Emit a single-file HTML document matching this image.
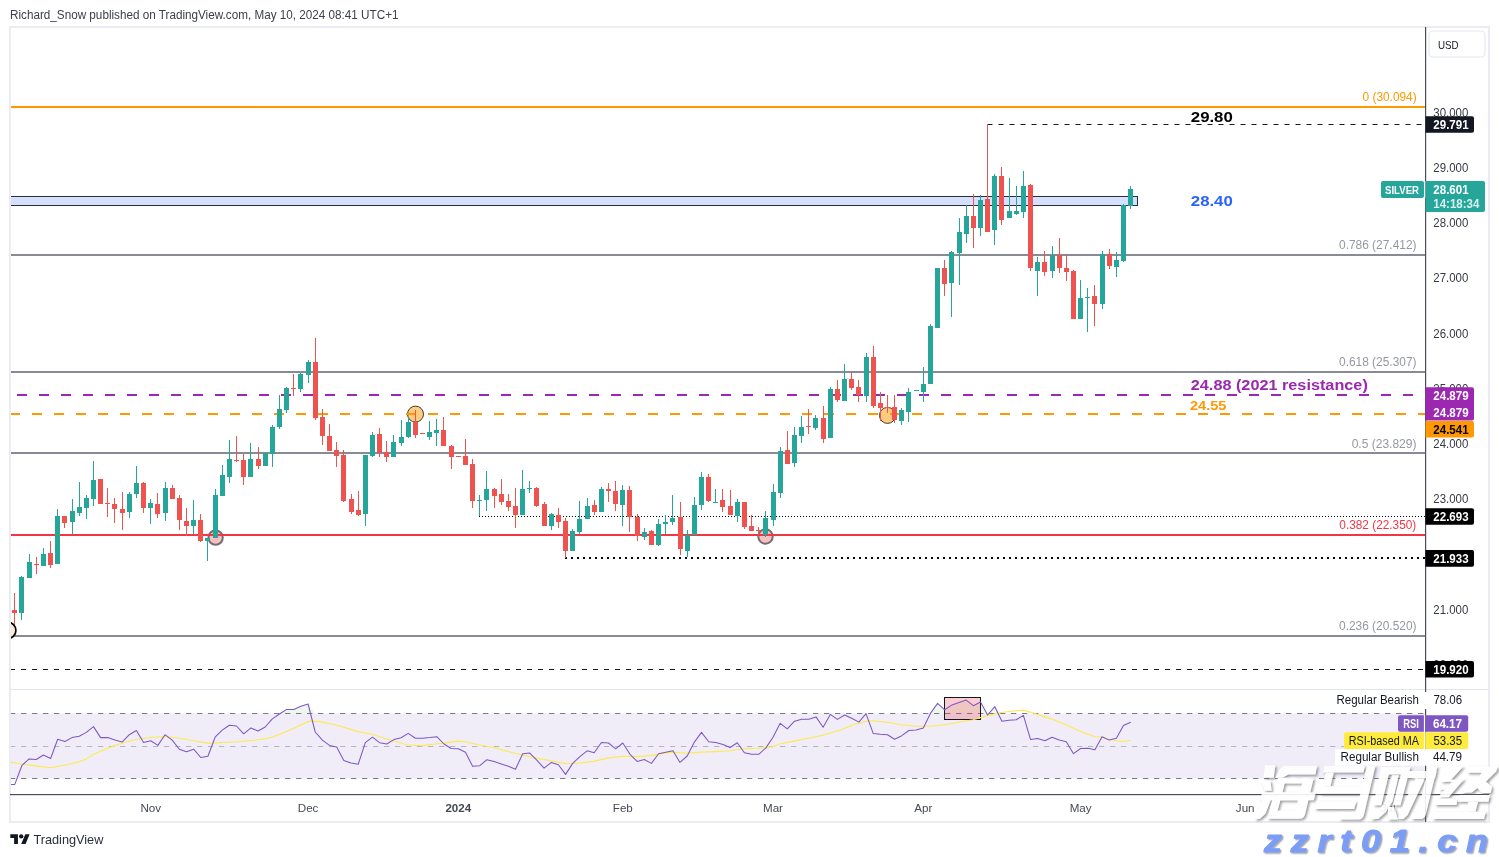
<!DOCTYPE html><html><head><meta charset="utf-8"><title>chart</title><style>html,body{margin:0;padding:0;background:#fff;}svg{display:block;will-change:transform;opacity:0.999}</style></head><body><svg width="1499" height="857" viewBox="0 0 1499 857" font-family='"Liberation Sans", sans-serif' shape-rendering="auto">
<defs><clipPath id="cp"><rect x="10" y="27" width="1415" height="663"/></clipPath><clipPath id="rp"><rect x="10" y="690" width="1415" height="104"/></clipPath><filter id="sh" x="-5%" y="-10%" width="110%" height="130%"><feDropShadow dx="1.6" dy="1.6" stdDeviation="0.8" flood-color="#606066" flood-opacity="0.7"/></filter><filter id="sh2" x="-5%" y="-10%" width="110%" height="130%"><feDropShadow dx="1.4" dy="1.4" stdDeviation="0.6" flood-color="#666" flood-opacity="0.55"/></filter></defs>
<rect width="1499" height="857" fill="#fff"/>
<text x="10" y="19" font-size="12" fill="#3c404b" font-weight="normal" text-anchor="start" textLength="388.5" lengthAdjust="spacingAndGlyphs" >Richard_Snow published on TradingView.com, May 10, 2024 08:41 UTC+1</text>
<rect x="10" y="713.5" width="1415" height="65" fill="#f0edf9"/>
<rect x="10" y="689" width="1479" height="1" fill="#e3e5ee"/>
<g clip-path="url(#cp)">
<circle cx="215.6" cy="537.6" r="7.2" fill="#f23645" fill-opacity="0.32" stroke="#707070" stroke-width="2"/>
<circle cx="765.5" cy="536.5" r="7.2" fill="#f23645" fill-opacity="0.32" stroke="#707070" stroke-width="2"/>
<circle cx="415.5" cy="414.1" r="8" fill="#ff9800" fill-opacity="0.5" stroke="#3a3a3a" stroke-width="1"/>
<circle cx="887.5" cy="415.4" r="8" fill="#ff9800" fill-opacity="0.5" stroke="#3a3a3a" stroke-width="1"/>
</g>
<line x1="10" y1="107" x2="1425" y2="107" stroke="#ff9800" stroke-width="2"/>
<line x1="10" y1="255" x2="1425" y2="255" stroke="#888b96" stroke-width="2"/>
<line x1="10" y1="372" x2="1425" y2="372" stroke="#888b96" stroke-width="2"/>
<line x1="10" y1="453" x2="1425" y2="453" stroke="#888b96" stroke-width="2"/>
<line x1="10" y1="535" x2="1425" y2="535" stroke="#f23645" stroke-width="2"/>
<line x1="10" y1="636" x2="1425" y2="636" stroke="#888b96" stroke-width="2"/>
<g clip-path="url(#cp)"><rect x="0.5" y="196.5" width="1137" height="9" fill="#d5e0ff" stroke="#2a2e39" stroke-width="1"/></g>
<line x1="17" y1="395" x2="1413" y2="395" stroke="#9c27b0" stroke-width="2" stroke-dasharray="10 12" stroke-dashoffset="0"/>
<line x1="10" y1="414" x2="1425" y2="414" stroke="#ff9800" stroke-width="2" stroke-dasharray="10 12" stroke-dashoffset="0"/>
<line x1="987.5" y1="124.5" x2="1425" y2="124.5" stroke="#131722" stroke-width="1" stroke-dasharray="5 6" stroke-dashoffset="0"/>
<line x1="10" y1="669.5" x2="1425" y2="669.5" stroke="#131722" stroke-width="1" stroke-dasharray="5 6" stroke-dashoffset="0"/>
<line x1="479" y1="516.5" x2="1425" y2="516.5" stroke="#000" stroke-width="1" stroke-dasharray="1 2" stroke-dashoffset="0"/>
<line x1="565" y1="558" x2="1425" y2="558" stroke="#000" stroke-width="2" stroke-dasharray="2 4" stroke-dashoffset="0"/>
<g clip-path="url(#cp)" shape-rendering="crispEdges">
<rect x="14.0" y="593" width="1" height="32" fill="#ef5350"/>
<rect x="12.0" y="610" width="5" height="3" fill="#ef5350"/>
<rect x="21.0" y="576" width="1" height="44" fill="#26a69a"/>
<rect x="19.0" y="577" width="5" height="36" fill="#26a69a"/>
<rect x="29.0" y="554" width="1" height="24" fill="#26a69a"/>
<rect x="27.0" y="562" width="5" height="16" fill="#26a69a"/>
<rect x="36.0" y="557" width="1" height="17" fill="#ef5350"/>
<rect x="34.0" y="564" width="5" height="1" fill="#ef5350"/>
<rect x="43.0" y="548" width="1" height="18" fill="#26a69a"/>
<rect x="41.0" y="554" width="5" height="12" fill="#26a69a"/>
<rect x="50.0" y="541" width="1" height="27" fill="#ef5350"/>
<rect x="48.0" y="553" width="5" height="12" fill="#ef5350"/>
<rect x="57.0" y="509" width="1" height="55" fill="#26a69a"/>
<rect x="55.0" y="516" width="5" height="48" fill="#26a69a"/>
<rect x="64.0" y="516" width="1" height="12" fill="#ef5350"/>
<rect x="62.0" y="516" width="5" height="7" fill="#ef5350"/>
<rect x="72.0" y="499" width="1" height="35" fill="#26a69a"/>
<rect x="70.0" y="511" width="5" height="11" fill="#26a69a"/>
<rect x="79.0" y="482" width="1" height="34" fill="#26a69a"/>
<rect x="77.0" y="507" width="5" height="6" fill="#26a69a"/>
<rect x="86.0" y="495" width="1" height="24" fill="#26a69a"/>
<rect x="84.0" y="498" width="5" height="10" fill="#26a69a"/>
<rect x="93.0" y="461" width="1" height="45" fill="#26a69a"/>
<rect x="91.0" y="480" width="5" height="19" fill="#26a69a"/>
<rect x="100.0" y="479" width="1" height="25" fill="#ef5350"/>
<rect x="98.0" y="479" width="5" height="25" fill="#ef5350"/>
<rect x="107.0" y="488" width="1" height="29" fill="#ef5350"/>
<rect x="105.0" y="503" width="5" height="1" fill="#ef5350"/>
<rect x="114.0" y="498" width="1" height="25" fill="#ef5350"/>
<rect x="112.0" y="504" width="5" height="5" fill="#ef5350"/>
<rect x="122.0" y="492" width="1" height="38" fill="#ef5350"/>
<rect x="120.0" y="509" width="5" height="4" fill="#ef5350"/>
<rect x="129.0" y="492" width="1" height="26" fill="#26a69a"/>
<rect x="127.0" y="494" width="5" height="18" fill="#26a69a"/>
<rect x="136.0" y="466" width="1" height="32" fill="#26a69a"/>
<rect x="134.0" y="483" width="5" height="11" fill="#26a69a"/>
<rect x="143.0" y="482" width="1" height="31" fill="#ef5350"/>
<rect x="141.0" y="483" width="5" height="25" fill="#ef5350"/>
<rect x="150.0" y="499" width="1" height="25" fill="#26a69a"/>
<rect x="148.0" y="503" width="5" height="5" fill="#26a69a"/>
<rect x="157.0" y="493" width="1" height="25" fill="#ef5350"/>
<rect x="155.0" y="504" width="5" height="10" fill="#ef5350"/>
<rect x="165.0" y="482" width="1" height="39" fill="#26a69a"/>
<rect x="163.0" y="488" width="5" height="25" fill="#26a69a"/>
<rect x="172.0" y="485" width="1" height="14" fill="#ef5350"/>
<rect x="170.0" y="488" width="5" height="11" fill="#ef5350"/>
<rect x="179.0" y="495" width="1" height="35" fill="#ef5350"/>
<rect x="177.0" y="498" width="5" height="22" fill="#ef5350"/>
<rect x="186.0" y="508" width="1" height="28" fill="#ef5350"/>
<rect x="184.0" y="521" width="5" height="5" fill="#ef5350"/>
<rect x="193.0" y="500" width="1" height="34" fill="#26a69a"/>
<rect x="191.0" y="520" width="5" height="6" fill="#26a69a"/>
<rect x="200.0" y="514" width="1" height="28" fill="#ef5350"/>
<rect x="198.0" y="520" width="5" height="21" fill="#ef5350"/>
<rect x="207.0" y="538" width="1" height="23" fill="#26a69a"/>
<rect x="205.0" y="538" width="5" height="3" fill="#26a69a"/>
<rect x="215.0" y="489" width="1" height="49" fill="#26a69a"/>
<rect x="213.0" y="495" width="5" height="43" fill="#26a69a"/>
<rect x="222.0" y="465" width="1" height="31" fill="#26a69a"/>
<rect x="220.0" y="475" width="5" height="21" fill="#26a69a"/>
<rect x="229.0" y="440" width="1" height="43" fill="#26a69a"/>
<rect x="227.0" y="459" width="5" height="18" fill="#26a69a"/>
<rect x="236.0" y="436" width="1" height="26" fill="#ef5350"/>
<rect x="234.0" y="460" width="5" height="1" fill="#ef5350"/>
<rect x="243.0" y="454" width="1" height="31" fill="#ef5350"/>
<rect x="241.0" y="460" width="5" height="17" fill="#ef5350"/>
<rect x="250.0" y="443" width="1" height="34" fill="#26a69a"/>
<rect x="248.0" y="459" width="5" height="18" fill="#26a69a"/>
<rect x="258.0" y="447" width="1" height="22" fill="#ef5350"/>
<rect x="256.0" y="459" width="5" height="7" fill="#ef5350"/>
<rect x="265.0" y="453" width="1" height="13" fill="#26a69a"/>
<rect x="263.0" y="453" width="5" height="13" fill="#26a69a"/>
<rect x="272.0" y="425" width="1" height="42" fill="#26a69a"/>
<rect x="270.0" y="427" width="5" height="27" fill="#26a69a"/>
<rect x="279.0" y="395" width="1" height="34" fill="#26a69a"/>
<rect x="277.0" y="409" width="5" height="18" fill="#26a69a"/>
<rect x="286.0" y="387" width="1" height="26" fill="#26a69a"/>
<rect x="284.0" y="388" width="5" height="22" fill="#26a69a"/>
<rect x="293.0" y="374" width="1" height="22" fill="#ef5350"/>
<rect x="291.0" y="388" width="5" height="1" fill="#ef5350"/>
<rect x="300.0" y="373" width="1" height="19" fill="#26a69a"/>
<rect x="298.0" y="374" width="5" height="15" fill="#26a69a"/>
<rect x="308.0" y="360" width="1" height="23" fill="#26a69a"/>
<rect x="306.0" y="362" width="5" height="13" fill="#26a69a"/>
<rect x="315.0" y="338" width="1" height="82" fill="#ef5350"/>
<rect x="313.0" y="362" width="5" height="56" fill="#ef5350"/>
<rect x="322.0" y="409" width="1" height="36" fill="#ef5350"/>
<rect x="320.0" y="417" width="5" height="19" fill="#ef5350"/>
<rect x="329.0" y="424" width="1" height="27" fill="#ef5350"/>
<rect x="327.0" y="436" width="5" height="15" fill="#ef5350"/>
<rect x="336.0" y="442" width="1" height="25" fill="#ef5350"/>
<rect x="334.0" y="450" width="5" height="6" fill="#ef5350"/>
<rect x="343.0" y="450" width="1" height="52" fill="#ef5350"/>
<rect x="341.0" y="455" width="5" height="46" fill="#ef5350"/>
<rect x="351.0" y="494" width="1" height="20" fill="#ef5350"/>
<rect x="349.0" y="499" width="5" height="13" fill="#ef5350"/>
<rect x="358.0" y="491" width="1" height="25" fill="#ef5350"/>
<rect x="356.0" y="510" width="5" height="5" fill="#ef5350"/>
<rect x="365.0" y="455" width="1" height="71" fill="#26a69a"/>
<rect x="363.0" y="455" width="5" height="59" fill="#26a69a"/>
<rect x="372.0" y="432" width="1" height="25" fill="#26a69a"/>
<rect x="370.0" y="435" width="5" height="21" fill="#26a69a"/>
<rect x="379.0" y="428" width="1" height="29" fill="#ef5350"/>
<rect x="377.0" y="434" width="5" height="19" fill="#ef5350"/>
<rect x="386.0" y="441" width="1" height="21" fill="#ef5350"/>
<rect x="384.0" y="452" width="5" height="5" fill="#ef5350"/>
<rect x="393.0" y="435" width="1" height="22" fill="#26a69a"/>
<rect x="391.0" y="442" width="5" height="15" fill="#26a69a"/>
<rect x="401.0" y="420" width="1" height="26" fill="#26a69a"/>
<rect x="399.0" y="437" width="5" height="6" fill="#26a69a"/>
<rect x="408.0" y="417" width="1" height="21" fill="#26a69a"/>
<rect x="406.0" y="422" width="5" height="15" fill="#26a69a"/>
<rect x="415.0" y="410" width="1" height="28" fill="#ef5350"/>
<rect x="413.0" y="422" width="5" height="13" fill="#ef5350"/>
<rect x="422.0" y="433" width="1" height="1" fill="#ef5350"/>
<rect x="420.0" y="433" width="5" height="1" fill="#ef5350"/>
<rect x="429.0" y="421" width="1" height="19" fill="#26a69a"/>
<rect x="427.0" y="432" width="5" height="5" fill="#26a69a"/>
<rect x="436.0" y="419" width="1" height="27" fill="#26a69a"/>
<rect x="434.0" y="430" width="5" height="3" fill="#26a69a"/>
<rect x="443.0" y="417" width="1" height="29" fill="#ef5350"/>
<rect x="441.0" y="430" width="5" height="16" fill="#ef5350"/>
<rect x="451.0" y="445" width="1" height="24" fill="#ef5350"/>
<rect x="449.0" y="446" width="5" height="11" fill="#ef5350"/>
<rect x="458.0" y="456" width="1" height="1" fill="#ef5350"/>
<rect x="456.0" y="456" width="5" height="1" fill="#ef5350"/>
<rect x="465.0" y="439" width="1" height="26" fill="#ef5350"/>
<rect x="463.0" y="456" width="5" height="9" fill="#ef5350"/>
<rect x="472.0" y="459" width="1" height="49" fill="#ef5350"/>
<rect x="470.0" y="464" width="5" height="37" fill="#ef5350"/>
<rect x="479.0" y="495" width="1" height="21" fill="#26a69a"/>
<rect x="477.0" y="500" width="5" height="1" fill="#26a69a"/>
<rect x="486.0" y="471" width="1" height="40" fill="#26a69a"/>
<rect x="484.0" y="489" width="5" height="11" fill="#26a69a"/>
<rect x="494.0" y="488" width="1" height="20" fill="#ef5350"/>
<rect x="492.0" y="489" width="5" height="7" fill="#ef5350"/>
<rect x="501.0" y="479" width="1" height="26" fill="#ef5350"/>
<rect x="499.0" y="494" width="5" height="8" fill="#ef5350"/>
<rect x="508.0" y="494" width="1" height="17" fill="#ef5350"/>
<rect x="506.0" y="501" width="5" height="6" fill="#ef5350"/>
<rect x="515.0" y="488" width="1" height="40" fill="#ef5350"/>
<rect x="513.0" y="506" width="5" height="9" fill="#ef5350"/>
<rect x="522.0" y="470" width="1" height="45" fill="#26a69a"/>
<rect x="520.0" y="489" width="5" height="26" fill="#26a69a"/>
<rect x="529.0" y="481" width="1" height="12" fill="#26a69a"/>
<rect x="527.0" y="488" width="5" height="1" fill="#26a69a"/>
<rect x="536.0" y="487" width="1" height="20" fill="#ef5350"/>
<rect x="534.0" y="488" width="5" height="18" fill="#ef5350"/>
<rect x="544.0" y="502" width="1" height="24" fill="#ef5350"/>
<rect x="542.0" y="504" width="5" height="22" fill="#ef5350"/>
<rect x="551.0" y="513" width="1" height="17" fill="#26a69a"/>
<rect x="549.0" y="514" width="5" height="12" fill="#26a69a"/>
<rect x="558.0" y="508" width="1" height="20" fill="#ef5350"/>
<rect x="556.0" y="515" width="5" height="7" fill="#ef5350"/>
<rect x="565.0" y="518" width="1" height="40" fill="#ef5350"/>
<rect x="563.0" y="521" width="5" height="30" fill="#ef5350"/>
<rect x="572.0" y="529" width="1" height="22" fill="#26a69a"/>
<rect x="570.0" y="531" width="5" height="20" fill="#26a69a"/>
<rect x="579.0" y="501" width="1" height="34" fill="#26a69a"/>
<rect x="577.0" y="519" width="5" height="13" fill="#26a69a"/>
<rect x="587.0" y="498" width="1" height="21" fill="#26a69a"/>
<rect x="585.0" y="506" width="5" height="13" fill="#26a69a"/>
<rect x="594.0" y="500" width="1" height="15" fill="#ef5350"/>
<rect x="592.0" y="505" width="5" height="7" fill="#ef5350"/>
<rect x="601.0" y="487" width="1" height="25" fill="#26a69a"/>
<rect x="599.0" y="489" width="5" height="23" fill="#26a69a"/>
<rect x="608.0" y="483" width="1" height="19" fill="#ef5350"/>
<rect x="606.0" y="489" width="5" height="2" fill="#ef5350"/>
<rect x="615.0" y="481" width="1" height="30" fill="#ef5350"/>
<rect x="613.0" y="491" width="5" height="13" fill="#ef5350"/>
<rect x="622.0" y="485" width="1" height="41" fill="#26a69a"/>
<rect x="620.0" y="490" width="5" height="15" fill="#26a69a"/>
<rect x="629.0" y="486" width="1" height="46" fill="#ef5350"/>
<rect x="627.0" y="490" width="5" height="27" fill="#ef5350"/>
<rect x="637.0" y="514" width="1" height="27" fill="#ef5350"/>
<rect x="635.0" y="517" width="5" height="19" fill="#ef5350"/>
<rect x="644.0" y="528" width="1" height="12" fill="#26a69a"/>
<rect x="642.0" y="532" width="5" height="5" fill="#26a69a"/>
<rect x="651.0" y="530" width="1" height="15" fill="#ef5350"/>
<rect x="649.0" y="531" width="5" height="14" fill="#ef5350"/>
<rect x="658.0" y="519" width="1" height="27" fill="#26a69a"/>
<rect x="656.0" y="524" width="5" height="21" fill="#26a69a"/>
<rect x="665.0" y="515" width="1" height="19" fill="#26a69a"/>
<rect x="663.0" y="522" width="5" height="2" fill="#26a69a"/>
<rect x="672.0" y="495" width="1" height="30" fill="#26a69a"/>
<rect x="670.0" y="518" width="5" height="4" fill="#26a69a"/>
<rect x="680.0" y="502" width="1" height="53" fill="#ef5350"/>
<rect x="678.0" y="517" width="5" height="32" fill="#ef5350"/>
<rect x="687.0" y="530" width="1" height="27" fill="#26a69a"/>
<rect x="685.0" y="535" width="5" height="16" fill="#26a69a"/>
<rect x="694.0" y="497" width="1" height="38" fill="#26a69a"/>
<rect x="692.0" y="505" width="5" height="30" fill="#26a69a"/>
<rect x="701.0" y="472" width="1" height="38" fill="#26a69a"/>
<rect x="699.0" y="477" width="5" height="28" fill="#26a69a"/>
<rect x="708.0" y="474" width="1" height="28" fill="#ef5350"/>
<rect x="706.0" y="477" width="5" height="24" fill="#ef5350"/>
<rect x="715.0" y="489" width="1" height="13" fill="#26a69a"/>
<rect x="713.0" y="502" width="5" height="1" fill="#26a69a"/>
<rect x="722.0" y="489" width="1" height="23" fill="#ef5350"/>
<rect x="720.0" y="500" width="5" height="7" fill="#ef5350"/>
<rect x="730.0" y="490" width="1" height="25" fill="#ef5350"/>
<rect x="728.0" y="506" width="5" height="9" fill="#ef5350"/>
<rect x="737.0" y="499" width="1" height="23" fill="#26a69a"/>
<rect x="735.0" y="502" width="5" height="14" fill="#26a69a"/>
<rect x="744.0" y="502" width="1" height="27" fill="#ef5350"/>
<rect x="742.0" y="502" width="5" height="25" fill="#ef5350"/>
<rect x="751.0" y="515" width="1" height="16" fill="#ef5350"/>
<rect x="749.0" y="526" width="5" height="5" fill="#ef5350"/>
<rect x="758.0" y="527" width="1" height="8" fill="#ef5350"/>
<rect x="756.0" y="530" width="5" height="1" fill="#ef5350"/>
<rect x="765.0" y="511" width="1" height="26" fill="#26a69a"/>
<rect x="763.0" y="518" width="5" height="17" fill="#26a69a"/>
<rect x="773.0" y="484" width="1" height="42" fill="#26a69a"/>
<rect x="771.0" y="492" width="5" height="28" fill="#26a69a"/>
<rect x="780.0" y="447" width="1" height="51" fill="#26a69a"/>
<rect x="778.0" y="451" width="5" height="42" fill="#26a69a"/>
<rect x="787.0" y="431" width="1" height="33" fill="#ef5350"/>
<rect x="785.0" y="450" width="5" height="14" fill="#ef5350"/>
<rect x="794.0" y="427" width="1" height="40" fill="#26a69a"/>
<rect x="792.0" y="435" width="5" height="28" fill="#26a69a"/>
<rect x="801.0" y="416" width="1" height="27" fill="#26a69a"/>
<rect x="799.0" y="427" width="5" height="9" fill="#26a69a"/>
<rect x="808.0" y="409" width="1" height="25" fill="#ef5350"/>
<rect x="806.0" y="426" width="5" height="1" fill="#ef5350"/>
<rect x="815.0" y="415" width="1" height="15" fill="#26a69a"/>
<rect x="813.0" y="418" width="5" height="10" fill="#26a69a"/>
<rect x="823.0" y="406" width="1" height="37" fill="#ef5350"/>
<rect x="821.0" y="418" width="5" height="21" fill="#ef5350"/>
<rect x="830.0" y="387" width="1" height="51" fill="#26a69a"/>
<rect x="828.0" y="389" width="5" height="49" fill="#26a69a"/>
<rect x="837.0" y="380" width="1" height="22" fill="#ef5350"/>
<rect x="835.0" y="389" width="5" height="11" fill="#ef5350"/>
<rect x="844.0" y="364" width="1" height="37" fill="#26a69a"/>
<rect x="842.0" y="379" width="5" height="22" fill="#26a69a"/>
<rect x="851.0" y="371" width="1" height="19" fill="#ef5350"/>
<rect x="849.0" y="379" width="5" height="9" fill="#ef5350"/>
<rect x="858.0" y="380" width="1" height="22" fill="#ef5350"/>
<rect x="856.0" y="387" width="5" height="8" fill="#ef5350"/>
<rect x="866.0" y="353" width="1" height="49" fill="#26a69a"/>
<rect x="864.0" y="357" width="5" height="39" fill="#26a69a"/>
<rect x="873.0" y="346" width="1" height="62" fill="#ef5350"/>
<rect x="871.0" y="357" width="5" height="49" fill="#ef5350"/>
<rect x="880.0" y="392" width="1" height="29" fill="#ef5350"/>
<rect x="878.0" y="403" width="5" height="5" fill="#ef5350"/>
<rect x="887.0" y="395" width="1" height="18" fill="#ef5350"/>
<rect x="885.0" y="407" width="5" height="1" fill="#ef5350"/>
<rect x="894.0" y="395" width="1" height="28" fill="#ef5350"/>
<rect x="892.0" y="407" width="5" height="13" fill="#ef5350"/>
<rect x="901.0" y="408" width="1" height="17" fill="#26a69a"/>
<rect x="899.0" y="410" width="5" height="11" fill="#26a69a"/>
<rect x="908.0" y="388" width="1" height="34" fill="#26a69a"/>
<rect x="906.0" y="392" width="5" height="20" fill="#26a69a"/>
<rect x="916.0" y="390" width="1" height="1" fill="#26a69a"/>
<rect x="914.0" y="390" width="5" height="1" fill="#26a69a"/>
<rect x="923.0" y="367" width="1" height="35" fill="#26a69a"/>
<rect x="921.0" y="384" width="5" height="8" fill="#26a69a"/>
<rect x="930.0" y="324" width="1" height="60" fill="#26a69a"/>
<rect x="928.0" y="326" width="5" height="58" fill="#26a69a"/>
<rect x="937.0" y="268" width="1" height="60" fill="#26a69a"/>
<rect x="935.0" y="268" width="5" height="60" fill="#26a69a"/>
<rect x="944.0" y="260" width="1" height="36" fill="#ef5350"/>
<rect x="942.0" y="268" width="5" height="16" fill="#ef5350"/>
<rect x="951.0" y="251" width="1" height="66" fill="#26a69a"/>
<rect x="949.0" y="252" width="5" height="31" fill="#26a69a"/>
<rect x="959.0" y="218" width="1" height="67" fill="#26a69a"/>
<rect x="957.0" y="232" width="5" height="21" fill="#26a69a"/>
<rect x="966.0" y="205" width="1" height="38" fill="#26a69a"/>
<rect x="964.0" y="216" width="5" height="18" fill="#26a69a"/>
<rect x="973.0" y="194" width="1" height="54" fill="#ef5350"/>
<rect x="971.0" y="216" width="5" height="12" fill="#ef5350"/>
<rect x="980.0" y="195" width="1" height="41" fill="#26a69a"/>
<rect x="978.0" y="200" width="5" height="28" fill="#26a69a"/>
<rect x="987.0" y="124" width="1" height="108" fill="#ef5350"/>
<rect x="985.0" y="199" width="5" height="33" fill="#ef5350"/>
<rect x="994.0" y="174" width="1" height="71" fill="#26a69a"/>
<rect x="992.0" y="176" width="5" height="54" fill="#26a69a"/>
<rect x="1001.0" y="167" width="1" height="58" fill="#ef5350"/>
<rect x="999.0" y="176" width="5" height="44" fill="#ef5350"/>
<rect x="1009.0" y="178" width="1" height="40" fill="#26a69a"/>
<rect x="1007.0" y="211" width="5" height="7" fill="#26a69a"/>
<rect x="1016.0" y="186" width="1" height="29" fill="#26a69a"/>
<rect x="1014.0" y="211" width="5" height="3" fill="#26a69a"/>
<rect x="1023.0" y="171" width="1" height="47" fill="#26a69a"/>
<rect x="1021.0" y="186" width="5" height="26" fill="#26a69a"/>
<rect x="1030.0" y="184" width="1" height="87" fill="#ef5350"/>
<rect x="1028.0" y="185" width="5" height="83" fill="#ef5350"/>
<rect x="1037.0" y="257" width="1" height="39" fill="#26a69a"/>
<rect x="1035.0" y="262" width="5" height="9" fill="#26a69a"/>
<rect x="1044.0" y="251" width="1" height="25" fill="#ef5350"/>
<rect x="1042.0" y="262" width="5" height="10" fill="#ef5350"/>
<rect x="1052.0" y="246" width="1" height="32" fill="#26a69a"/>
<rect x="1050.0" y="255" width="5" height="16" fill="#26a69a"/>
<rect x="1059.0" y="238" width="1" height="35" fill="#ef5350"/>
<rect x="1057.0" y="255" width="5" height="13" fill="#ef5350"/>
<rect x="1066.0" y="254" width="1" height="27" fill="#ef5350"/>
<rect x="1064.0" y="268" width="5" height="4" fill="#ef5350"/>
<rect x="1073.0" y="270" width="1" height="49" fill="#ef5350"/>
<rect x="1071.0" y="271" width="5" height="48" fill="#ef5350"/>
<rect x="1080.0" y="280" width="1" height="39" fill="#26a69a"/>
<rect x="1078.0" y="298" width="5" height="21" fill="#26a69a"/>
<rect x="1087.0" y="288" width="1" height="44" fill="#26a69a"/>
<rect x="1085.0" y="297" width="5" height="1" fill="#26a69a"/>
<rect x="1094.0" y="285" width="1" height="41" fill="#ef5350"/>
<rect x="1092.0" y="296" width="5" height="8" fill="#ef5350"/>
<rect x="1102.0" y="251" width="1" height="58" fill="#26a69a"/>
<rect x="1100.0" y="254" width="5" height="50" fill="#26a69a"/>
<rect x="1109.0" y="249" width="1" height="20" fill="#ef5350"/>
<rect x="1107.0" y="254" width="5" height="12" fill="#ef5350"/>
<rect x="1116.0" y="252" width="1" height="25" fill="#26a69a"/>
<rect x="1114.0" y="260" width="5" height="7" fill="#26a69a"/>
<rect x="1123.0" y="204" width="1" height="58" fill="#26a69a"/>
<rect x="1121.0" y="205" width="5" height="56" fill="#26a69a"/>
<rect x="1130.0" y="186" width="1" height="23" fill="#26a69a"/>
<rect x="1128.0" y="189" width="5" height="17" fill="#26a69a"/>
</g>
<g clip-path="url(#cp)"><circle cx="7.7" cy="630.4" r="8.2" fill="#fdebd0" stroke="#000" stroke-width="1.7"/></g>
<text x="1416.6" y="101" font-size="12" fill="#ff9800" font-weight="normal" text-anchor="end" textLength="54" lengthAdjust="spacingAndGlyphs" >0 (30.094)</text>
<text x="1416.5" y="248.8" font-size="12" fill="#9598a1" font-weight="normal" text-anchor="end" textLength="77.5" lengthAdjust="spacingAndGlyphs" >0.786 (27.412)</text>
<text x="1416.5" y="365.8" font-size="12" fill="#9598a1" font-weight="normal" text-anchor="end" textLength="77.5" lengthAdjust="spacingAndGlyphs" >0.618 (25.307)</text>
<text x="1416.5" y="447.9" font-size="12" fill="#9598a1" font-weight="normal" text-anchor="end" textLength="64.8" lengthAdjust="spacingAndGlyphs" >0.5 (23.829)</text>
<text x="1416.3" y="528.9" font-size="12" fill="#f23645" font-weight="normal" text-anchor="end" textLength="77" lengthAdjust="spacingAndGlyphs" >0.382 (22.350)</text>
<text x="1416.5" y="630" font-size="12" fill="#9598a1" font-weight="normal" text-anchor="end" textLength="77.5" lengthAdjust="spacingAndGlyphs" >0.236 (20.520)</text>
<text x="1190.8" y="121.9" font-size="14.5" fill="#000" font-weight="bold" text-anchor="start" textLength="42" lengthAdjust="spacingAndGlyphs" >29.80</text>
<text x="1190.8" y="205.7" font-size="14.5" fill="#2962ff" font-weight="bold" text-anchor="start" textLength="42" lengthAdjust="spacingAndGlyphs" >28.40</text>
<text x="1190.8" y="389.5" font-size="14.5" fill="#9c27b0" font-weight="bold" text-anchor="start" textLength="177" lengthAdjust="spacingAndGlyphs" >24.88 (2021 resistance)</text>
<text x="1190" y="409.8" font-size="12.5" fill="#ff9800" font-weight="bold" text-anchor="start" textLength="36.4" lengthAdjust="spacingAndGlyphs" >24.55</text>
<line x1="10" y1="713.5" x2="1425" y2="713.5" stroke="#787b86" stroke-width="1" stroke-dasharray="5.3 5.7" stroke-dashoffset="0"/>
<line x1="10" y1="746.5" x2="1425" y2="746.5" stroke="#b2b5be" stroke-width="1" stroke-dasharray="5.3 5.7" stroke-dashoffset="0"/>
<line x1="10" y1="778.5" x2="1425" y2="778.5" stroke="#787b86" stroke-width="1" stroke-dasharray="5.3 5.7" stroke-dashoffset="0"/>
<g clip-path="url(#rp)">
<polygon points="10,713.5 10.0,713.5 14.8,713.5 22.0,713.5 29.1,713.5 36.3,713.5 43.4,713.5 50.6,713.5 57.7,713.5 64.9,713.5 72.0,713.5 79.2,713.5 86.3,713.5 93.5,713.5 100.6,713.5 107.8,713.5 114.9,713.5 122.1,713.5 129.3,713.5 136.4,713.5 143.6,713.5 150.7,713.5 157.9,713.5 165.0,713.5 172.2,713.5 179.3,713.5 186.5,713.5 193.6,713.5 200.8,713.5 207.9,713.5 215.1,713.5 222.2,713.5 229.4,713.5 236.5,713.5 243.7,713.5 250.9,713.5 258.0,713.5 265.2,713.5 272.3,713.5 279.5,713.5 286.6,709.4 293.8,709.6 300.9,706.3 308.1,704.0 315.2,713.5 322.4,713.5 329.5,713.5 336.7,713.5 343.8,713.5 351.0,713.5 358.2,713.5 365.3,713.5 372.5,713.5 379.6,713.5 386.8,713.5 393.9,713.5 401.1,713.5 408.2,713.5 415.4,713.5 422.5,713.5 429.7,713.5 436.8,713.5 444.0,713.5 451.1,713.5 458.3,713.5 465.5,713.5 472.6,713.5 479.8,713.5 486.9,713.5 494.1,713.5 501.2,713.5 508.4,713.5 515.5,713.5 522.7,713.5 529.8,713.5 537.0,713.5 544.1,713.5 551.3,713.5 558.4,713.5 565.6,713.5 572.7,713.5 579.9,713.5 587.1,713.5 594.2,713.5 601.4,713.5 608.5,713.5 615.7,713.5 622.8,713.5 630.0,713.5 637.1,713.5 644.3,713.5 651.4,713.5 658.6,713.5 665.7,713.5 672.9,713.5 680.0,713.5 687.2,713.5 694.4,713.5 701.5,713.5 708.7,713.5 715.8,713.5 723.0,713.5 730.1,713.5 737.3,713.5 744.4,713.5 751.6,713.5 758.7,713.5 765.9,713.5 773.0,713.5 780.2,713.5 787.3,713.5 794.5,713.5 801.7,713.5 808.8,713.5 816.0,713.5 823.1,713.5 830.3,713.5 837.4,713.5 844.6,713.5 851.7,713.5 858.9,713.5 866.0,713.5 873.2,713.5 880.3,713.5 887.5,713.5 894.6,713.5 901.8,713.5 908.9,713.5 916.1,713.5 923.3,713.5 930.4,713.4 937.6,703.4 944.7,709.8 951.9,704.9 959.0,702.4 966.2,700.1 973.3,705.7 980.5,702.0 987.6,713.5 994.8,706.7 1001.9,713.5 1009.1,713.5 1016.2,713.5 1023.4,713.5 1030.6,713.5 1037.7,713.5 1044.9,713.5 1052.0,713.5 1059.2,713.5 1066.3,713.5 1073.5,713.5 1080.6,713.5 1087.8,713.5 1094.9,713.5 1102.1,713.5 1109.2,713.5 1116.4,713.5 1123.5,713.5 1130.7,713.5 1130.7,713.5" fill="#4caf50" fill-opacity="0.10"/>
<rect x="944.5" y="697.5" width="36" height="22" fill="#f23645" fill-opacity="0.25" stroke="#131722" stroke-width="1"/>
<polyline fill="none" stroke="#ffe94d" stroke-width="1.1" stroke-linejoin="round" points="10.1,762.0 23.2,764.3 36.0,765.9 50.3,767.8 64.6,765.3 79.1,761.8 86.3,758.9 93.4,754.6 108.0,747.9 122.3,743.0 136.6,739.2 150.9,737.2 165.4,736.8 179.7,738.2 194.0,740.7 208.6,743.4 222.9,742.5 237.4,741.7 251.7,740.5 266.0,738.8 273.2,736.8 280.0,734.3 280.3,733.9 293.5,728.5 308.1,721.4 318.7,721.4 336.1,725.0 357.4,731.4 372.1,734.3 386.0,738.8 407.7,745.0 422.2,745.6 435.9,744.0 450.6,742.1 458.0,741.1 465.1,741.7 479.3,745.0 493.4,747.5 507.7,751.4 521.8,755.0 536.3,758.1 551.2,760.8 564.8,763.4 565.8,763.7 579.3,763.0 593.5,761.4 607.8,758.1 622.1,756.2 636.4,756.6 650.7,755.6 665.0,753.1 672.2,752.1 686.5,753.3 700.8,752.1 715.2,751.6 729.5,750.8 743.8,748.8 758.1,748.3 772.4,746.9 779.6,744.0 793.9,741.1 808.2,738.2 822.5,735.3 836.8,731.0 840.0,730.5 851.6,725.2 865.9,721.2 873.1,720.8 887.4,722.3 901.5,724.7 915.8,726.2 930.2,726.2 944.5,724.7 958.8,722.3 973.1,719.8 987.4,715.6 1001.7,712.5 1008.9,711.5 1023.2,710.1 1030.4,712.1 1037.5,714.6 1051.8,718.9 1066.2,724.7 1080.5,731.4 1094.8,736.8 1101.9,737.2 1109.1,739.2 1116.3,740.7 1123.4,741.5 1130.6,740.5"/>
<polyline fill="none" stroke="#7e57c2" stroke-width="1.05" stroke-linejoin="round" points="10.0,784.4 14.8,784.4 22.0,765.3 29.1,758.9 36.3,759.5 43.4,755.0 50.6,758.5 57.7,739.2 64.9,741.5 72.0,737.6 79.2,736.3 86.3,732.4 93.5,726.6 100.6,737.6 107.8,737.6 114.9,740.1 122.1,742.1 129.3,734.7 136.4,730.5 143.6,742.5 150.7,740.7 157.9,745.4 165.0,734.7 172.2,740.1 179.3,749.2 186.5,751.7 193.6,749.2 200.8,757.5 207.9,756.2 215.1,737.2 222.2,730.1 229.4,725.2 236.5,726.0 243.7,733.8 250.9,727.9 258.0,731.0 265.2,727.0 272.3,718.9 279.5,714.0 286.6,709.4 293.8,709.6 300.9,706.3 308.1,704.0 315.2,732.0 322.4,740.1 329.5,745.4 336.7,746.9 343.8,760.4 351.0,763.0 358.2,764.3 365.3,742.7 372.5,737.2 379.6,742.7 386.8,744.0 393.9,739.6 401.1,737.8 408.2,733.4 415.4,738.2 422.5,738.2 429.7,737.6 436.8,736.7 444.0,744.0 451.1,748.5 458.3,748.8 465.5,752.3 472.6,766.3 479.8,765.7 486.9,759.7 494.1,761.4 501.2,763.9 508.4,766.3 515.5,769.3 522.7,753.7 529.8,753.1 537.0,760.4 544.1,768.2 551.3,762.4 558.4,764.7 565.6,774.4 572.7,763.4 579.9,756.6 587.1,750.8 594.2,752.7 601.4,742.5 608.5,743.0 615.7,748.8 622.8,743.0 630.0,754.3 637.1,761.4 644.3,759.5 651.4,763.4 658.6,753.7 665.7,752.3 672.9,750.8 680.0,762.4 687.2,756.0 694.4,742.1 701.5,732.4 708.7,741.7 715.8,742.5 723.0,744.4 730.1,747.5 737.3,742.7 744.4,752.7 751.6,754.3 758.7,754.3 765.9,747.9 773.0,737.2 780.2,723.3 787.3,728.9 794.5,721.2 801.7,719.2 808.8,719.2 816.0,716.9 823.1,727.2 830.3,714.4 837.4,719.4 844.6,715.0 851.7,718.3 858.9,722.1 866.0,713.6 873.2,733.4 880.3,734.3 887.5,734.7 894.6,739.2 901.8,735.7 908.9,730.5 916.1,729.9 923.3,727.9 930.4,713.4 937.6,703.4 944.7,709.8 951.9,704.9 959.0,702.4 966.2,700.1 973.3,705.7 980.5,702.0 987.6,715.0 994.8,706.7 1001.9,721.2 1009.1,720.2 1016.2,719.8 1023.4,715.4 1030.6,739.6 1037.7,738.6 1044.9,740.7 1052.0,737.2 1059.2,740.1 1066.3,741.7 1073.5,753.7 1080.6,748.5 1087.8,748.3 1094.9,749.8 1102.1,736.7 1109.2,740.1 1116.4,738.2 1123.5,725.6 1130.7,722.3"/>
</g>
<rect x="10" y="27" width="1479" height="795" fill="none" stroke="#ebecf3" stroke-width="2"/>
<rect x="1425" y="27" width="1.2" height="795" fill="#4a4d5a"/>
<rect x="10" y="794" width="1479" height="1.2" fill="#4a4d5a"/>
<text x="1433.3" y="116.5" font-size="12" fill="#363a45" font-weight="normal" text-anchor="start" textLength="35" lengthAdjust="spacingAndGlyphs" >30.000</text>
<text x="1433.3" y="171.8" font-size="12" fill="#363a45" font-weight="normal" text-anchor="start" textLength="35" lengthAdjust="spacingAndGlyphs" >29.000</text>
<text x="1433.3" y="227.0" font-size="12" fill="#363a45" font-weight="normal" text-anchor="start" textLength="35" lengthAdjust="spacingAndGlyphs" >28.000</text>
<text x="1433.3" y="282.2" font-size="12" fill="#363a45" font-weight="normal" text-anchor="start" textLength="35" lengthAdjust="spacingAndGlyphs" >27.000</text>
<text x="1433.3" y="337.5" font-size="12" fill="#363a45" font-weight="normal" text-anchor="start" textLength="35" lengthAdjust="spacingAndGlyphs" >26.000</text>
<text x="1433.3" y="392.8" font-size="12" fill="#363a45" font-weight="normal" text-anchor="start" textLength="35" lengthAdjust="spacingAndGlyphs" >25.000</text>
<text x="1433.3" y="448.0" font-size="12" fill="#363a45" font-weight="normal" text-anchor="start" textLength="35" lengthAdjust="spacingAndGlyphs" >24.000</text>
<text x="1433.3" y="503.2" font-size="12" fill="#363a45" font-weight="normal" text-anchor="start" textLength="35" lengthAdjust="spacingAndGlyphs" >23.000</text>
<text x="1433.3" y="558.5" font-size="12" fill="#363a45" font-weight="normal" text-anchor="start" textLength="35" lengthAdjust="spacingAndGlyphs" >22.000</text>
<text x="1433.3" y="613.8" font-size="12" fill="#363a45" font-weight="normal" text-anchor="start" textLength="35" lengthAdjust="spacingAndGlyphs" >21.000</text>
<text x="1433.3" y="669.0" font-size="12" fill="#363a45" font-weight="normal" text-anchor="start" textLength="35" lengthAdjust="spacingAndGlyphs" >20.000</text>
<rect x="1429" y="31" width="56" height="26" rx="4" fill="#fff" stroke="#e6e8f0" stroke-width="1.2"/>
<text x="1438" y="48.5" font-size="11.5" fill="#131722" font-weight="normal" text-anchor="start" textLength="20.7" lengthAdjust="spacingAndGlyphs" >USD</text>
<path d="M1425.5 116.2 h46.5 a2 2 0 0 1 2 2 v12.600000000000001 a2 2 0 0 1 -2 2 h-46.5 z" fill="#131722"/>
<text x="1433.3" y="128.8" font-size="12" fill="#fff" font-weight="bold" text-anchor="start" textLength="35.3" lengthAdjust="spacingAndGlyphs" >29.791</text>
<rect x="1425.5" y="398" width="48.5" height="12" fill="#9c27b0"/>
<path d="M1425.5 387.2 h46.5 a2 2 0 0 1 2 2 v12.600000000000001 a2 2 0 0 1 -2 2 h-46.5 z" fill="#9c27b0"/>
<text x="1433.3" y="399.8" font-size="12" fill="#fff" font-weight="bold" text-anchor="start" textLength="35.3" lengthAdjust="spacingAndGlyphs" >24.879</text>
<path d="M1425.5 404.0 h46.5 a2 2 0 0 1 2 2 v12.600000000000001 a2 2 0 0 1 -2 2 h-46.5 z" fill="#9c27b0"/>
<text x="1433.3" y="416.6" font-size="12" fill="#fff" font-weight="bold" text-anchor="start" textLength="35.3" lengthAdjust="spacingAndGlyphs" >24.879</text>
<path d="M1425.5 421.0 h46.5 a2 2 0 0 1 2 2 v12.600000000000001 a2 2 0 0 1 -2 2 h-46.5 z" fill="#ff9800"/>
<text x="1433.3" y="433.6" font-size="12" fill="#000" font-weight="bold" text-anchor="start" textLength="35.3" lengthAdjust="spacingAndGlyphs" >24.541</text>
<path d="M1425.5 508.2 h46.5 a2 2 0 0 1 2 2 v12.600000000000001 a2 2 0 0 1 -2 2 h-46.5 z" fill="#000"/>
<text x="1433.3" y="520.8" font-size="12" fill="#fff" font-weight="bold" text-anchor="start" textLength="35.3" lengthAdjust="spacingAndGlyphs" >22.693</text>
<path d="M1425.5 550.1 h46.5 a2 2 0 0 1 2 2 v12.600000000000001 a2 2 0 0 1 -2 2 h-46.5 z" fill="#000"/>
<text x="1433.3" y="562.6999999999999" font-size="12" fill="#fff" font-weight="bold" text-anchor="start" textLength="35.3" lengthAdjust="spacingAndGlyphs" >21.933</text>
<path d="M1425.5 661.0 h46.5 a2 2 0 0 1 2 2 v12.600000000000001 a2 2 0 0 1 -2 2 h-46.5 z" fill="#000"/>
<text x="1433.3" y="673.5999999999999" font-size="12" fill="#fff" font-weight="bold" text-anchor="start" textLength="35.3" lengthAdjust="spacingAndGlyphs" >19.920</text>
<rect x="1424" y="181" width="1.5" height="17" fill="#fff"/>
<rect x="1381" y="181" width="43" height="17" rx="2" fill="#26a69a"/>
<text x="1385" y="193.6" font-size="11" fill="#fff" font-weight="bold" text-anchor="start" textLength="34" lengthAdjust="spacingAndGlyphs" >SILVER</text>
<path d="M1425.5 181 h57.5 a2 2 0 0 1 2 2 v27 a2 2 0 0 1 -2 2 h-57.5 z" fill="#26a69a"/>
<text x="1433.3" y="193.7" font-size="12" fill="#fff" font-weight="bold" text-anchor="start" textLength="35.3" lengthAdjust="spacingAndGlyphs" >28.601</text>
<text x="1433.3" y="207.8" font-size="12" fill="#d9f0ed" font-weight="bold" text-anchor="start" textLength="46" lengthAdjust="spacingAndGlyphs" >14:18:34</text>
<rect x="1424.5" y="692" width="63.5" height="17" fill="#fff"/>
<rect x="1335" y="749.2" width="153" height="16.5" fill="#fff"/>
<text x="1336.5" y="704.1" font-size="12" fill="#131722" font-weight="normal" text-anchor="start" textLength="82.4" lengthAdjust="spacingAndGlyphs" >Regular Bearish</text>
<text x="1433.4" y="704.1" font-size="12" fill="#131722" font-weight="normal" text-anchor="start" textLength="28.7" lengthAdjust="spacingAndGlyphs" >78.06</text>
<rect x="1423.9" y="715.2" width="1.4" height="33.7" fill="#fff"/>
<path d="M1400 715.2 h23.9 v16.6 h-23.9 a2 2 0 0 1 -2 -2 v-12.6 a2 2 0 0 1 2 -2 z" fill="#7e57c2"/>
<text x="1403.2" y="727.5" font-size="12" fill="#fff" font-weight="bold" text-anchor="start" textLength="15.7" lengthAdjust="spacingAndGlyphs" >RSI</text>
<path d="M1425.2 715.2 h41 a2 2 0 0 1 2 2 v12.6 a2 2 0 0 1 -2 2 h-41 z" fill="#7e57c2"/>
<text x="1432.9" y="727.5" font-size="12" fill="#fff" font-weight="bold" text-anchor="start" textLength="29.2" lengthAdjust="spacingAndGlyphs" >64.17</text>
<path d="M1346.1 732.2 h77.8 v16.7 h-77.8 a2 2 0 0 1 -2 -2 v-12.7 a2 2 0 0 1 2 -2 z" fill="#ffeb3b"/>
<text x="1348.7" y="744.5" font-size="12" fill="#131722" font-weight="normal" text-anchor="start" textLength="70.2" lengthAdjust="spacingAndGlyphs" >RSI-based MA</text>
<path d="M1425.2 732.2 h41 a2 2 0 0 1 2 2 v12.7 a2 2 0 0 1 -2 2 h-41 z" fill="#ffeb3b"/>
<text x="1433.4" y="744.5" font-size="12" fill="#131722" font-weight="normal" text-anchor="start" textLength="28.7" lengthAdjust="spacingAndGlyphs" >53.35</text>
<text x="1340.5" y="761" font-size="12" fill="#131722" font-weight="normal" text-anchor="start" textLength="78.4" lengthAdjust="spacingAndGlyphs" >Regular Bullish</text>
<text x="1432.9" y="761" font-size="12" fill="#131722" font-weight="normal" text-anchor="start" textLength="29.2" lengthAdjust="spacingAndGlyphs" >44.79</text>
<text x="150.7" y="812" font-size="11.6" fill="#454954" font-weight="normal" text-anchor="middle" >Nov</text>
<text x="308.1" y="812" font-size="11.6" fill="#454954" font-weight="normal" text-anchor="middle" >Dec</text>
<text x="458.3" y="812" font-size="11.6" fill="#454954" font-weight="bold" text-anchor="middle" >2024</text>
<text x="622.8" y="812" font-size="11.6" fill="#454954" font-weight="normal" text-anchor="middle" >Feb</text>
<text x="773.0" y="812" font-size="11.6" fill="#454954" font-weight="normal" text-anchor="middle" >Mar</text>
<text x="923.3" y="812" font-size="11.6" fill="#454954" font-weight="normal" text-anchor="middle" >Apr</text>
<text x="1080.6" y="812" font-size="11.6" fill="#454954" font-weight="normal" text-anchor="middle" >May</text>
<text x="1245.2" y="812" font-size="11.6" fill="#454954" font-weight="normal" text-anchor="middle" >Jun</text>
<text x="1388.2" y="812" font-size="11.6" fill="#454954" font-weight="normal" text-anchor="middle" >Jul</text>
<g transform="translate(10.3,832) scale(0.545)" fill="#131722"><path d="M14 22H7V11H0V4h14v18z"/><circle cx="20" cy="8" r="4"/><path d="M28 22h-8l7.5-18h8L28 22z"/></g>
<text x="33.4" y="843.8" font-size="13" fill="#2a2e39" font-weight="normal" text-anchor="start" textLength="70" lengthAdjust="spacingAndGlyphs" >TradingView</text>
<g opacity="0.9"><g filter="url(#sh)" fill="#fff">
<g transform="translate(1255,762) scale(0.08339)">
<polygon points="120,40 245,40 225,190 100,190"/>
<polygon points="75,225 185,225 200,345 115,345"/>
<polygon points="95,430 200,430 125,620 60,680 0,690 0,600 40,560"/>
<polygon points="350,45 745,45 725,150 400,150 330,190 245,190 290,100"/>
<path fill-rule="evenodd" d="M275,190 L705,190 L600,630 Q585,680 535,680 L150,680 Z M355,258 L565,258 L540,365 L330,365 Z M305,460 L515,460 L480,585 L270,585 Z"/>
<polygon points="85,365 730,365 705,460 60,460"/>
<polygon points="835,45 1320,45 1300,125 815,125"/>
<polygon points="850,125 945,125 905,290 810,290"/>
<polygon points="800,290 1290,290 1268,380 778,380"/>
<polygon points="740,470 1215,470 1190,565 715,565"/>
<path d="M1345,45 L1445,45 L1305,640 Q1290,690 1240,690 L1010,690 L1030,600 L1195,600 Q1210,600 1215,580 Z"/>
</g>
<g transform="translate(1315,762) scale(0.08339)">
<polygon points="790,60 1145,60 1025,520 935,520 1030,150 885,150 795,520 700,520"/>
<polygon points="925,160 1005,160 930,470 850,600 760,682 670,690 680,630 770,580 845,470"/>
<polygon points="870,540 950,540 995,690 880,690"/>
</g>
<g transform="translate(1375,762) scale(0.08272)">
<polygon points="395,110 745,110 725,195 375,195"/>
<path d="M650,50 L755,50 L612,640 Q598,690 545,690 L440,690 L455,610 L500,610 Q515,610 520,590 Z"/>
<polygon points="490,195 590,195 590,230 395,640 345,690 280,690 300,620"/>
<polygon points="960,50 1070,50 920,215 1010,215 1085,200 890,425 760,425 930,240 790,240"/>
<polygon points="790,300 860,300 850,335 780,335"/>
<polygon points="745,440 1000,440 985,520 725,520"/>
<polygon points="715,600 1340,600 1318,690 695,690"/>
<polygon points="1110,50 1490,50 1465,115 1340,240 1415,300 1400,375 1290,375 1240,315 1170,368 1050,375 1060,330 1150,320 1250,200 1290,130 1120,130"/>
<polygon points="1020,400 1390,400 1372,480 1000,480"/>
<polygon points="1130,480 1245,480 1215,600 1100,600"/>
</g>
</g></g>
<g filter="url(#sh2)" fill="#7c9df6" stroke="#7c9df6" stroke-width="1.0" stroke-linejoin="round" font-style="italic" font-weight="bold"><text transform="translate(1264,851.5) scale(1.16,1)" x="0" y="0" font-size="31" textLength="193" lengthAdjust="spacing">zzrt01.cn</text></g>

</svg></body></html>
